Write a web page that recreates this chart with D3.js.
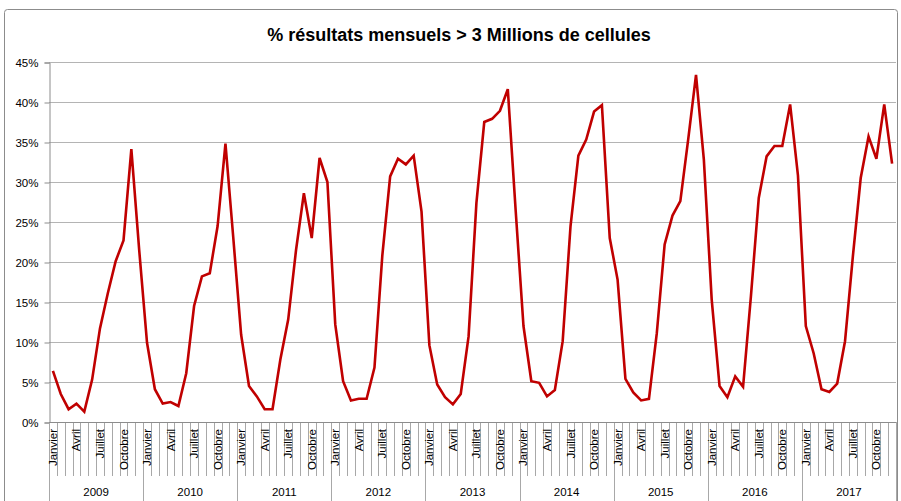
<!DOCTYPE html>
<html>
<head>
<meta charset="utf-8">
<title>% résultats mensuels</title>
<script src="https://d3js.org/d3.v7.min.js"></script>
<style>
body { margin: 0; background: #fff; }
text { font-family: "Liberation Sans", Arial, sans-serif; fill: #000; }
</style>
</head>
<body>
<script type="text/javascript">
var years = ["2009","2010","2011","2012","2013","2014","2015","2016","2017"];
var months = ["Janvier","Février","Mars","Avril","Mai","Juin","Juillet","Août","Septembre","Octobre","Novembre","Décembre"];
var shownMonths = ["Janvier","Avril","Juillet","Octobre"];
var yTicks = [0,5,10,15,20,25,30,35,40,45];

// % par mois, une ligne par année
var v2009 = [6.4, 3.5, 1.6, 2.3, 1.3, 5.3, 11.7, 16.1, 20.1, 22.7, 34.1, 21.5];
var v2010 = [9.9, 4.1, 2.3, 2.5, 2.0, 6.1, 14.5, 18.2, 18.6, 24.5, 34.8, 23.0];
var v2011 = [10.9, 4.5, 3.2, 1.6, 1.6, 7.8, 12.8, 21.5, 28.6, 23.0, 33.0, 30.0];
var v2012 = [12.2, 5.1, 2.7, 2.9, 2.9, 6.8, 20.8, 30.7, 32.9, 32.2, 33.3, 26.3];
var v2013 = [9.6, 4.7, 3.1, 2.2, 3.5, 10.7, 27.4, 37.5, 37.9, 38.9, 41.6, 26.5];
var v2014 = [12.0, 5.1, 4.9, 3.2, 4.0, 10.1, 24.5, 33.3, 35.3, 38.8, 39.6, 23.0];
var v2015 = [17.8, 5.4, 3.7, 2.7, 2.9, 11.1, 22.2, 25.8, 27.6, 35.3, 43.4, 32.8];
var v2016 = [15.3, 4.5, 3.1, 5.7, 4.4, 15.7, 28.0, 33.2, 34.5, 34.5, 39.7, 30.8];
var v2017 = [12.0, 8.6, 4.1, 3.75, 4.8, 10.1, 20.7, 30.5, 35.7, 32.9, 39.7, 32.3];
var values = [v2009, v2010, v2011, v2012, v2013, v2014, v2015, v2016, v2017];

var width = 901, height = 501;
var plotLeft = 49, plotRight = 896, plotTop = 62, plotBottom = 422;

var data = [];
years.forEach((yr, i) => {
  months.forEach((m, j) => {
    data.push({ key: yr + "-" + j, year: yr, month: m, value: values[i][j] });
  });
});

var svg = d3.select("body").append("svg")
  .attr("width", width)
  .attr("height", height);

// cadre du graphique
svg.append("rect")
  .attr("x", 4.5).attr("y", 9.5)
  .attr("width", 893).attr("height", 500)
  .attr("rx", 3)
  .attr("fill", "#fff")
  .attr("stroke", "#8c8c8c");

svg.append("text")
  .attr("x", 459).attr("y", 41)
  .attr("text-anchor", "middle")
  .style("font-size", "18px")
  .style("font-weight", "bold")
  .text("% résultats mensuels > 3 Millions de cellules");

var x = d3.scaleBand()
  .domain(data.map(d => d.key))
  .range([plotLeft, plotRight]);

var xYear = d3.scaleBand()
  .domain(years)
  .range([plotLeft, plotRight]);

var y = d3.scaleLinear()
  .domain([0, 45])
  .range([plotBottom, plotTop]);

// grille horizontale
svg.append("g").selectAll("line")
  .data(yTicks.filter(t => t > 0))
  .enter().append("line")
  .attr("x1", plotLeft).attr("x2", plotRight)
  .attr("y1", d => Math.round(y(d)) + 0.5)
  .attr("y2", d => Math.round(y(d)) + 0.5)
  .attr("stroke", "#b4b4b4");

// axe Y
var yAxis = d3.axisLeft(y)
  .tickValues(yTicks)
  .tickSize(5)
  .tickPadding(6)
  .tickFormat(d => d + "%");

svg.append("g")
  .attr("transform", "translate(" + (plotLeft + 0.5) + ",0.5)")
  .call(yAxis)
  .call(g => g.select(".domain").attr("stroke", "#8c8c8c"))
  .call(g => g.selectAll(".tick line").attr("stroke", "#8c8c8c"))
  .call(g => g.selectAll("text").style("font-size", "11.5px").style("font-family", "Liberation Sans, Arial, sans-serif").attr("fill", "#000"));

// axe X : traits entre les mois
var bounds = d3.range(0, data.length + 1);
svg.append("g").selectAll("line")
  .data(bounds)
  .enter().append("line")
  .attr("x1", i => Math.round(plotLeft + i * x.step()) + 0.5)
  .attr("x2", i => Math.round(plotLeft + i * x.step()) + 0.5)
  .attr("y1", plotBottom)
  .attr("y2", i => i % 12 == 0 ? height : 476)
  .attr("stroke", "#a8a8a8");

svg.append("line")
  .attr("x1", plotLeft).attr("x2", plotRight)
  .attr("y1", plotBottom + 0.5).attr("y2", plotBottom + 0.5)
  .attr("stroke", "#8c8c8c");

// noms de mois (un sur trois)
svg.append("g").selectAll("text")
  .data(data.filter(d => shownMonths.indexOf(d.month) >= 0))
  .enter().append("text")
  .attr("transform", d => "translate(" + (x(d.key) + x.bandwidth() / 2 + 4) + ",429) rotate(-90)")
  .attr("text-anchor", "end")
  .style("font-size", "11.5px")
  .text(d => d.month);

// années
svg.append("g").selectAll("text")
  .data(years)
  .enter().append("text")
  .attr("x", d => xYear(d) + xYear.bandwidth() / 2)
  .attr("y", 496)
  .attr("text-anchor", "middle")
  .style("font-size", "11.5px")
  .text(d => d);

var line = d3.line()
  .x(d => x(d.key) + x.bandwidth() / 2)
  .y(d => y(d.value));

svg.append("path")
  .datum(data)
  .attr("d", line)
  .attr("fill", "none")
  .attr("stroke", "#c00000")
  .attr("stroke-width", 2.6)
  .attr("stroke-linejoin", "miter");
</script>
</body>
</html>
